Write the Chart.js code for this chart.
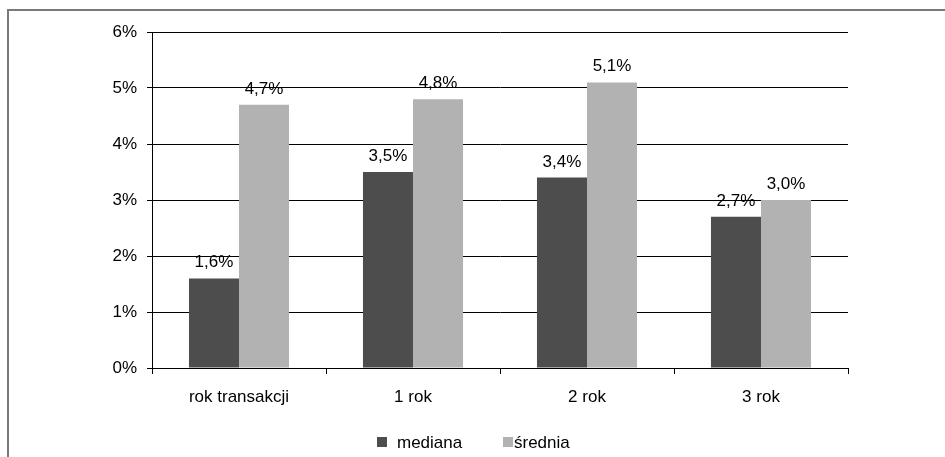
<!DOCTYPE html>
<html>
<head>
<meta charset="utf-8">
<script src="https://cdn.jsdelivr.net/npm/chart.js@4/dist/chart.umd.min.js"></script>
<style>
  html, body { margin: 0; padding: 0; background: #fff; }
  #wrap { width: 945px; height: 457px; position: relative; }
  canvas { display: block; }
</style>
</head>
<body>
<div id="wrap"><canvas id="c" width="945" height="457"></canvas></div>
<script>
// Categories and series values (percent)
const categories = ['rok transakcji', '1 rok', '2 rok', '3 rok'];
const medianaValues = [1.6, 3.5, 3.4, 2.7];
const sredniaValues = [4.7, 4.8, 5.1, 3.0];
const seriesNames = ['mediana', 'średnia'];
const yTickValues = [0, 1, 2, 3, 4, 5, 6];

const FONT = { family: '"Liberation Sans", Arial, sans-serif', size: 17 };
const fontStr = FONT.size + 'px ' + FONT.family;
const fmtPct = v => v.toFixed(1).replace('.', ',') + '%';

// Grey frame around the whole figure
const framePlugin = {
  id: 'frame',
  beforeDraw(chart) {
    const ctx = chart.ctx;
    ctx.save();
    ctx.fillStyle = '#fff';
    ctx.fillRect(0, 0, chart.width, chart.height);
    ctx.strokeStyle = '#7a7a7a';
    ctx.lineWidth = 2;
    ctx.beginPath();
    ctx.moveTo(8, chart.height + 2);
    ctx.lineTo(8, 10);
    ctx.lineTo(chart.width + 2, 10);
    ctx.stroke();
    ctx.restore();
  }
};

// Value labels above each bar
const valueLabels = {
  id: 'valueLabels',
  afterDatasetsDraw(chart) {
    const ctx = chart.ctx;
    ctx.save();
    ctx.font = fontStr;
    ctx.fillStyle = '#000';
    ctx.textAlign = 'center';
    ctx.textBaseline = 'alphabetic';
    chart.data.datasets.forEach((ds, di) => {
      chart.getDatasetMeta(di).data.forEach((bar, i) => {
        ctx.fillText(fmtPct(ds.data[i]), bar.x, bar.y - 11);
      });
    });
    ctx.restore();
  }
};

// Legend row under the axis
const bottomLegend = {
  id: 'bottomLegend',
  afterDraw(chart) {
    const ctx = chart.ctx;
    const slots = [{ box: 377, text: 397 }, { box: 503, text: 514 }];
    const cy = 442;
    ctx.save();
    ctx.font = fontStr;
    ctx.textBaseline = 'middle';
    ctx.textAlign = 'left';
    chart.data.datasets.forEach((ds, i) => {
      const s = slots[i];
      ctx.fillStyle = ds.backgroundColor;
      ctx.fillRect(s.box, cy - 5, 10, 10);
      ctx.fillStyle = '#000';
      ctx.fillText(ds.label, s.text, cy + 1);
    });
    ctx.restore();
  }
};

new Chart(document.getElementById('c'), {
  type: 'bar',
  data: {
    labels: categories,
    datasets: [
      { label: seriesNames[0], data: medianaValues, backgroundColor: '#4d4d4d' },
      { label: seriesNames[1], data: sredniaValues, backgroundColor: '#b2b2b2' }
    ]
  },
  options: {
    responsive: false,
    animation: false,
    devicePixelRatio: 1,
    layout: { padding: { left: 0, top: 32, right: 97, bottom: 0 } },
    datasets: { bar: { categoryPercentage: 0.575, barPercentage: 1.0 } },
    plugins: {
      legend: { display: false },
      tooltip: { enabled: false }
    },
    scales: {
      x: {
        offset: true,
        grid: { display: true, drawOnChartArea: false, drawTicks: true, tickLength: 6, color: '#000', offset: true },
        border: { display: true, color: '#000', width: 1 },
        ticks: { color: '#000', font: FONT, padding: 13, maxRotation: 0 },
        afterFit(scale) { scale.height = 89; }
      },
      y: {
        min: 0,
        max: 6,
        grid: { color: '#000', lineWidth: 1, drawTicks: true, tickLength: 5 },
        border: { display: true, color: '#000', width: 1 },
        ticks: { color: '#000', font: FONT, padding: 10, stepSize: 1, callback: v => v + '%' },
        afterBuildTicks(scale) { scale.ticks = yTickValues.map(v => ({ value: v })); },
        afterFit(scale) { scale.width = 152; }
      }
    }
  },
  plugins: [framePlugin, valueLabels, bottomLegend]
});
</script>
</body>
</html>
